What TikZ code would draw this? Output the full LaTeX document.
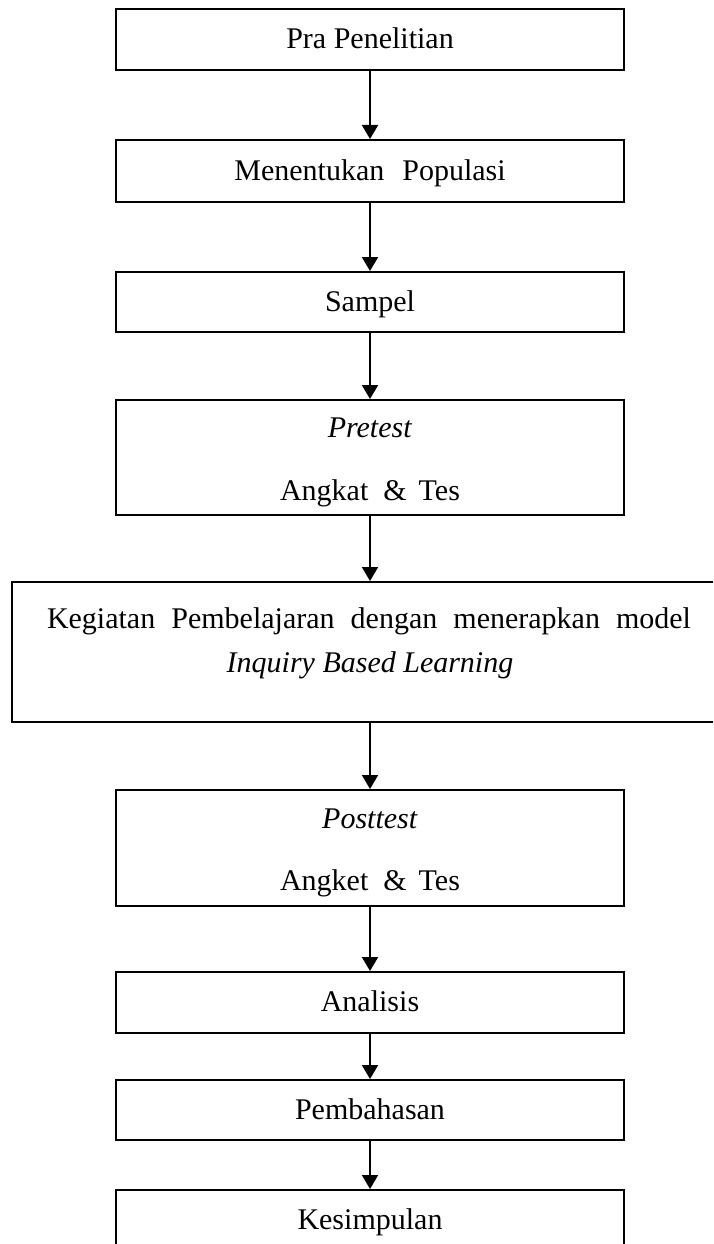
\documentclass[tikz,border=0pt]{standalone}
\usepackage{fontspec}
\setmainfont{Liberation Serif}
\usetikzlibrary{arrows.meta}
\begin{document}
\begin{tikzpicture}[x=1pt,y=-1pt,
  box/.style={draw, line width=2pt, minimum width=508pt, inner sep=0pt},
  lbl/.style={anchor=base, inner sep=0pt, font=\fontsize{30}{36}\selectfont},
  arr/.style={line width=2pt, -{Triangle[length=14pt,width=16pt]}}]
\useasboundingbox (0,0) rectangle (713,1244);
\clip (0,0) rectangle (713,1244);
% boxes
\node[box, minimum height=61pt] (b1) at (370,39.5) {};
\node[box, minimum height=62pt] (b2) at (370,171) {};
\node[box, minimum height=60pt] (b3) at (370,302) {};
\node[box, minimum height=115pt] (b4) at (370,457.5) {};
\node[box, minimum height=140pt, minimum width=716pt] (b5) at (370,652) {};
\node[box, minimum height=116pt] (b6) at (370,848) {};
\node[box, minimum height=61pt] (b7) at (370,1002.5) {};
\node[box, minimum height=60pt] (b8) at (370,1110) {};
\node[box, minimum height=60pt] (b9) at (370,1220) {};
% texts
\node[lbl] (t1) at (370,49) {Pra Penelitian};
\node[lbl] (t2) at (370,180.5) {Menentukan\hspace{.6em}Populasi};
\node[lbl] (t3) at (370,311) {Sampel};
\node[lbl] (t4a) at (370,437) {\textit{Pretest}};
\node[lbl] (t4b) at (370,500) {Angkat\hspace{.5em}\&\hspace{.4em}Tes};
\node[lbl] (t5a) at (369,628) {\makebox[644pt][s]{Kegiatan Pembelajaran dengan menerapkan model}};
\node[lbl] (t5b) at (370,672) {\textit{Inquiry Based Learning}};
\node[lbl] (t6a) at (370,828) {\textit{Posttest}};
\node[lbl] (t6b) at (370,890) {Angket\hspace{.5em}\&\hspace{.4em}Tes};
\node[lbl] (t7) at (370,1011) {Analisis};
\node[lbl] (t8) at (370,1119) {Pembahasan};
\node[lbl] (t9) at (370,1229) {Kesimpulan};
% arrows
\draw[arr] (b1) -- (b2);
\draw[arr] (b2) -- (b3);
\draw[arr] (b3) -- (b4);
\draw[arr] (b4) -- (b5);
\draw[arr] (b5) -- (b6);
\draw[arr] (b6) -- (b7);
\draw[arr] (b7) -- (b8);
\draw[arr] (b8) -- (b9);
\end{tikzpicture}
\end{document}
